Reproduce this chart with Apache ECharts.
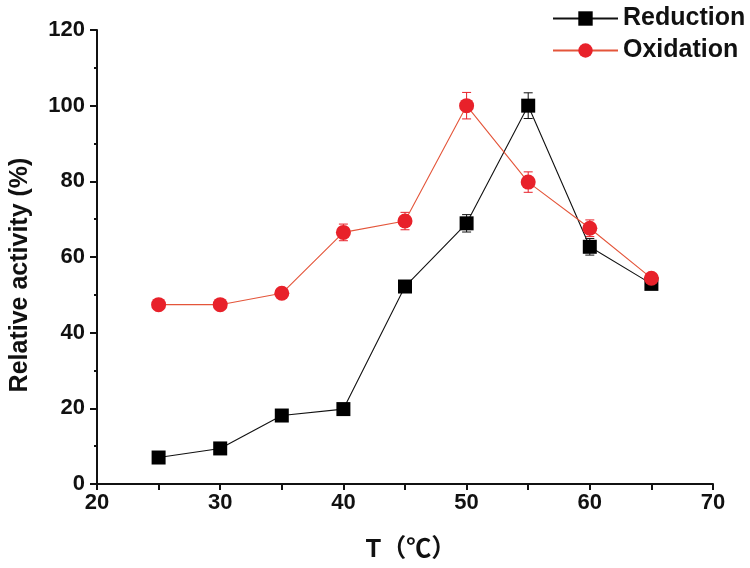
<!DOCTYPE html>
<html>
<head>
<meta charset="utf-8">
<script src="https://cdn.jsdelivr.net/npm/echarts@6/dist/echarts.min.js"></script>
<style>html,body{margin:0;padding:0;background:#fff}#c{width:750px;height:568px}</style>
</head>
<body>
<div id="c"></div>
<script>
const temps = [25, 30, 35, 40, 45, 50, 55, 60, 65];
const reduction = [7.0, 9.4, 18.1, 19.8, 52.2, 68.9, 100, 62.7, 52.9];
const reductionErr = [0.5, 0.5, 0.8, 0.5, 1.2, 2.3, 3.4, 2.2, 1.0];
const oxidation = [47.4, 47.4, 50.4, 66.5, 69.5, 100, 79.8, 67.6, 54.4];
const oxidationErr = [0.5, 0.5, 0.8, 2.2, 2.3, 3.5, 2.7, 2.2, 0.8];
const xTicks = [20, 30, 40, 50, 60, 70];
const yTicks = [0, 20, 40, 60, 80, 100, 120];

const RED = '#e8212a';
const LINE_RED = '#e4553a';
const FONT = '"Liberation Sans", Arial, sans-serif';

function pairs(xs, ys) { return xs.map((x, i) => [x, ys[i]]); }
function errData(xs, ys, es) { return xs.map((x, i) => [x, ys[i] - es[i], ys[i] + es[i]]); }

function errRender(color) {
  return function (params, api) {
    const x = api.value(0);
    const lo = api.coord([x, api.value(1)]);
    const hi = api.coord([x, api.value(2)]);
    const half = 4.5;
    const style = { stroke: color, lineWidth: 1 };
    return {
      type: 'group',
      children: [
        { type: 'line', shape: { x1: lo[0], y1: lo[1], x2: hi[0], y2: hi[1] }, style },
        { type: 'line', shape: { x1: lo[0] - half, y1: lo[1], x2: lo[0] + half, y2: lo[1] }, style },
        { type: 'line', shape: { x1: hi[0] - half, y1: hi[1], x2: hi[0] + half, y2: hi[1] }, style }
      ]
    };
  };
}

const chart = echarts.init(document.getElementById('c'), null, { renderer: 'canvas' });
chart.setOption({
  animation: false,
  backgroundColor: '#fff',
  grid: { left: 95, right: 37, top: 30, bottom: 84, containLabel: false },
  legend: {
    orient: 'vertical',
    left: 547,
    top: 1,
    itemWidth: 65,
    itemHeight: 18,
    itemGap: 7,
    data: ['Reduction', 'Oxidation'],
    textStyle: { fontSize: 25, fontWeight: 'bold', color: '#111', fontFamily: FONT }
  },
  xAxis: {
    type: 'value',
    min: 20, max: 70, interval: 10,
    name: 'T（℃）',
    nameLocation: 'middle',
    nameGap: 54,
    nameTextStyle: { fontSize: 25, fontWeight: 'bold', color: '#111', fontFamily: '"Liberation Sans", "Noto Sans CJK SC", sans-serif', padding: [0, 0, 0, 12] },
    axisLine: { onZero: false, lineStyle: { color: '#111', width: 2 } },
    axisTick: { show: true, inside: false, length: 6, lineStyle: { color: '#111', width: 2 } },
    minorTick: { show: true, splitNumber: 2, length: 6, lineStyle: { color: '#111', width: 2 } },
    axisLabel: { fontSize: 22, fontWeight: 'bold', color: '#111', margin: 8, fontFamily: FONT,
      formatter: v => xTicks.includes(v) ? String(v) : '' },
    splitLine: { show: false }
  },
  yAxis: {
    type: 'value',
    min: 0, max: 120, interval: 20,
    name: 'Relative activity (%)',
    nameLocation: 'middle',
    nameGap: 64,
    nameTextStyle: { fontSize: 25, fontWeight: 'bold', color: '#111', fontFamily: FONT, padding: [0, 36, 0, 0] },
    axisLine: { show: true, lineStyle: { color: '#111', width: 2 } },
    axisTick: { show: true, inside: false, length: 7, lineStyle: { color: '#111', width: 2 } },
    minorTick: { show: true, splitNumber: 2, length: 3, lineStyle: { color: '#111', width: 2 } },
    axisLabel: { fontSize: 22, fontWeight: 'bold', color: '#111', margin: 12, fontFamily: FONT,
      formatter: v => yTicks.includes(v) ? String(v) : '' },
    splitLine: { show: false }
  },
  series: [
    {
      name: 'ReductionErr', type: 'custom', renderItem: errRender('#111'),
      data: errData(temps, reduction, reductionErr), z: 1, silent: true,
      encode: { x: 0, y: [1, 2] }
    },
    {
      name: 'OxidationErr', type: 'custom', renderItem: errRender(RED),
      data: errData(temps, oxidation, oxidationErr), z: 1, silent: true,
      encode: { x: 0, y: [1, 2] }
    },
    {
      name: 'Reduction', type: 'line', data: pairs(temps, reduction),
      symbol: 'rect', symbolSize: 14,
      lineStyle: { color: '#111', width: 1.1 },
      itemStyle: { color: '#000' },
      z: 3
    },
    {
      name: 'Oxidation', type: 'line', data: pairs(temps, oxidation),
      symbol: 'circle', symbolSize: 15,
      lineStyle: { color: LINE_RED, width: 1.1 },
      itemStyle: { color: RED },
      z: 4
    }
  ]
});
</script>
</body>
</html>
